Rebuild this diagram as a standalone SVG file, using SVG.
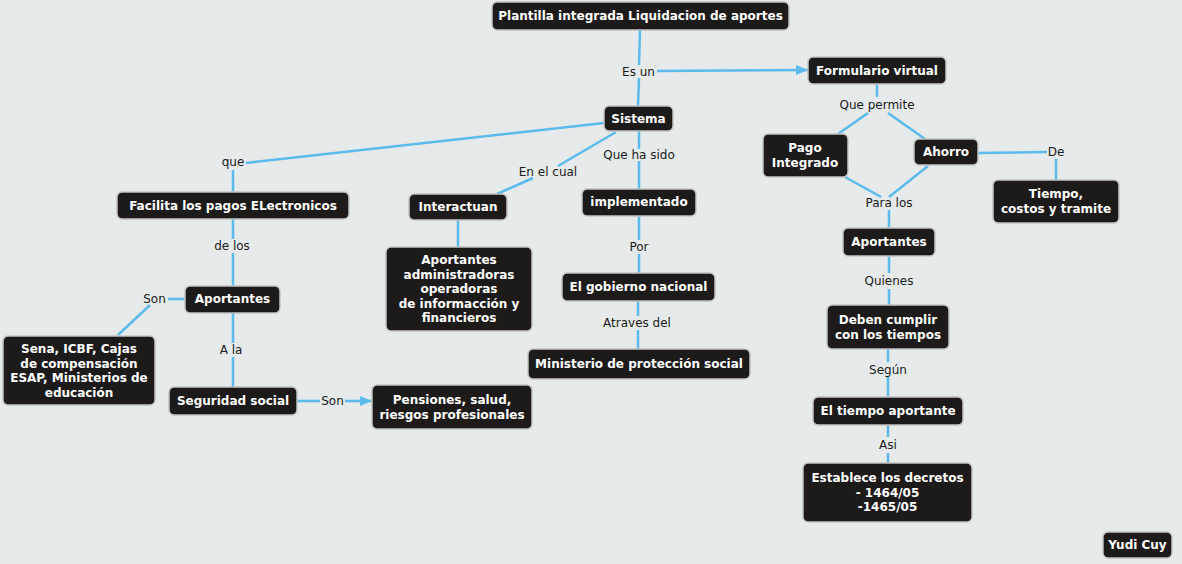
<svg xmlns="http://www.w3.org/2000/svg" width="1182" height="564" viewBox="0 0 1182 564">
<defs>
<marker id="arr" viewBox="0 0 12 10" refX="12" refY="5" markerWidth="12" markerHeight="10" markerUnits="userSpaceOnUse" orient="auto">
<path d="M0,0 L12,5 L0,10 Z" fill="#5bbbeb"/>
</marker>
<style>
.n rect{fill:#1d1b1a;stroke:#c4c4c4;stroke-width:1.5}
.n text{fill:#ffffff;font-family:"DejaVu Sans",Verdana,sans-serif;font-weight:bold;font-size:12px;text-anchor:middle}
.c line{stroke:#5bbbeb;stroke-width:2.5;fill:none}
.l{fill:#1a1a1a;font-family:"DejaVu Sans",Verdana,sans-serif;font-size:12px;text-anchor:middle}
</style>
</defs>
<rect x="0" y="0" width="1182" height="564" fill="#e6eaeb"/>
<g class="c" id="connectors">
<line x1="640" y1="30" x2="639" y2="65"/>
<line x1="639" y1="78" x2="638" y2="106"/>
<line x1="657" y1="71" x2="808" y2="70" marker-end="url(#arr)"/>
<line x1="604" y1="123" x2="246" y2="163"/>
<line x1="233" y1="170" x2="233" y2="192"/>
<line x1="616" y1="132" x2="558" y2="166"/>
<line x1="533" y1="178" x2="497" y2="194"/>
<line x1="639" y1="131" x2="639" y2="149"/>
<line x1="639" y1="161" x2="639" y2="189"/>
<line x1="233" y1="219" x2="233" y2="239"/>
<line x1="233" y1="253" x2="233" y2="286"/>
<line x1="185" y1="299" x2="168" y2="299"/>
<line x1="150" y1="305" x2="118" y2="335"/>
<line x1="233" y1="313" x2="233" y2="343"/>
<line x1="233" y1="357" x2="233" y2="387"/>
<line x1="297" y1="401" x2="320" y2="401"/>
<line x1="345" y1="401" x2="372" y2="401" marker-end="url(#arr)"/>
<line x1="458" y1="220" x2="458" y2="247"/>
<line x1="639" y1="216" x2="639" y2="240"/>
<line x1="639" y1="254" x2="639" y2="273"/>
<line x1="638" y1="301" x2="638" y2="316"/>
<line x1="638" y1="330" x2="638" y2="349"/>
<line x1="877" y1="84" x2="877" y2="97"/>
<line x1="868" y1="113" x2="838" y2="134"/>
<line x1="888" y1="113" x2="925" y2="139"/>
<line x1="978" y1="153" x2="1047" y2="152"/>
<line x1="1056" y1="159" x2="1056" y2="180"/>
<line x1="845" y1="177" x2="881" y2="197"/>
<line x1="928" y1="166" x2="889" y2="197"/>
<line x1="889" y1="210" x2="889" y2="228"/>
<line x1="889" y1="256" x2="889" y2="273"/>
<line x1="889" y1="289" x2="889" y2="305"/>
<line x1="888" y1="349" x2="888" y2="362"/>
<line x1="888" y1="377" x2="888" y2="397"/>
<line x1="888" y1="425" x2="888" y2="437"/>
<line x1="888" y1="453" x2="888" y2="463"/>
</g>
<g id="labels">
<text class="l" x="638.5" y="76">Es un</text>
<text class="l" x="233" y="166">que</text>
<text class="l" x="548" y="176">En el cual</text>
<text class="l" x="639" y="159">Que ha sido</text>
<text class="l" x="232" y="250">de los</text>
<text class="l" x="154.5" y="303">Son</text>
<text class="l" x="231" y="354">A la</text>
<text class="l" x="332.5" y="405">Son</text>
<text class="l" x="639" y="251">Por</text>
<text class="l" x="637" y="327">Atraves del</text>
<text class="l" x="877" y="109">Que permite</text>
<text class="l" x="1056" y="156">De</text>
<text class="l" x="889" y="207">Para los</text>
<text class="l" x="889" y="285">Quienes</text>
<text class="l" x="888" y="374">Según</text>
<text class="l" x="888" y="449">Asi</text>
</g>
<g class="n" id="n-plantilla"><rect x="492" y="2" width="297" height="28" rx="5"/><text x="640.5" y="20">Plantilla integrada Liquidacion de aportes</text></g>
<g class="n" id="n-formulario"><rect x="808" y="57" width="138" height="27" rx="5"/><text x="877" y="74.5">Formulario virtual</text></g>
<g class="n" id="n-sistema"><rect x="604" y="106" width="69" height="25" rx="5"/><text x="638.5" y="122.5">Sistema</text></g>
<g class="n" id="n-facilita"><rect x="117" y="192" width="232" height="27" rx="5"/><text x="233" y="209.5">Facilita los pagos ELectronicos</text></g>
<g class="n" id="n-interactuan"><rect x="409" y="194" width="98" height="26" rx="5"/><text x="458" y="211">Interactuan</text></g>
<g class="n" id="n-implementado"><rect x="582" y="189" width="114" height="27" rx="5"/><text x="639" y="206">implementado</text></g>
<g class="n" id="n-aportantes-admin"><rect x="386" y="247" width="146" height="84" rx="5"/><text x="459" y="264">Aportantes</text><text x="459" y="278.5">administradoras</text><text x="459" y="293">operadoras</text><text x="459" y="307.5">de informacción y</text><text x="459" y="322">financieros</text></g>
<g class="n" id="n-gobierno"><rect x="562" y="273" width="153" height="28" rx="5"/><text x="638.5" y="291">El gobierno nacional</text></g>
<g class="n" id="n-ministerio"><rect x="528" y="349" width="222" height="30" rx="5"/><text x="639" y="368">Ministerio de protección social</text></g>
<g class="n" id="n-pensiones"><rect x="372" y="385" width="160" height="44" rx="5"/><text x="452" y="404">Pensiones, salud,</text><text x="452" y="418.5">riesgos profesionales</text></g>
<g class="n" id="n-aportantes-l"><rect x="185" y="286" width="95" height="27" rx="5"/><text x="232.5" y="303">Aportantes</text></g>
<g class="n" id="n-sena"><rect x="3" y="336" width="152" height="69" rx="5"/><text x="79" y="353">Sena, ICBF, Cajas</text><text x="79" y="367.5">de compensación</text><text x="79" y="382">ESAP, Ministerios de</text><text x="79" y="396.5">educación</text></g>
<g class="n" id="n-seguridad"><rect x="169" y="387" width="128" height="28" rx="5"/><text x="233" y="405">Seguridad social</text></g>
<g class="n" id="n-pago"><rect x="763" y="134" width="85" height="43" rx="5"/><text x="805" y="152">Pago</text><text x="805" y="166.5">Integrado</text></g>
<g class="n" id="n-ahorro"><rect x="914" y="139" width="64" height="26" rx="5"/><text x="946" y="156">Ahorro</text></g>
<g class="n" id="n-tiempo"><rect x="993" y="180" width="126" height="43" rx="5"/><text x="1056" y="198">Tiempo,</text><text x="1056" y="212.5">costos y tramite</text></g>
<g class="n" id="n-aportantes-r"><rect x="843" y="228" width="92" height="28" rx="5"/><text x="889" y="246">Aportantes</text></g>
<g class="n" id="n-deben"><rect x="827" y="305" width="122" height="44" rx="5"/><text x="888" y="324">Deben cumplir</text><text x="888" y="338.5">con los tiempos</text></g>
<g class="n" id="n-tiempo-aportante"><rect x="813" y="397" width="150" height="28" rx="5"/><text x="888" y="415">El tiempo aportante</text></g>
<g class="n" id="n-establece"><rect x="803" y="463" width="169" height="59" rx="5"/><text x="887.5" y="482">Establece los decretos</text><text x="887.5" y="496.5">- 1464/05</text><text x="887.5" y="511">-1465/05</text></g>
<g class="n" id="n-yudi"><rect x="1103" y="532" width="69" height="26" rx="5"/><text x="1137.5" y="549">Yudi Cuy</text></g>
</svg>
